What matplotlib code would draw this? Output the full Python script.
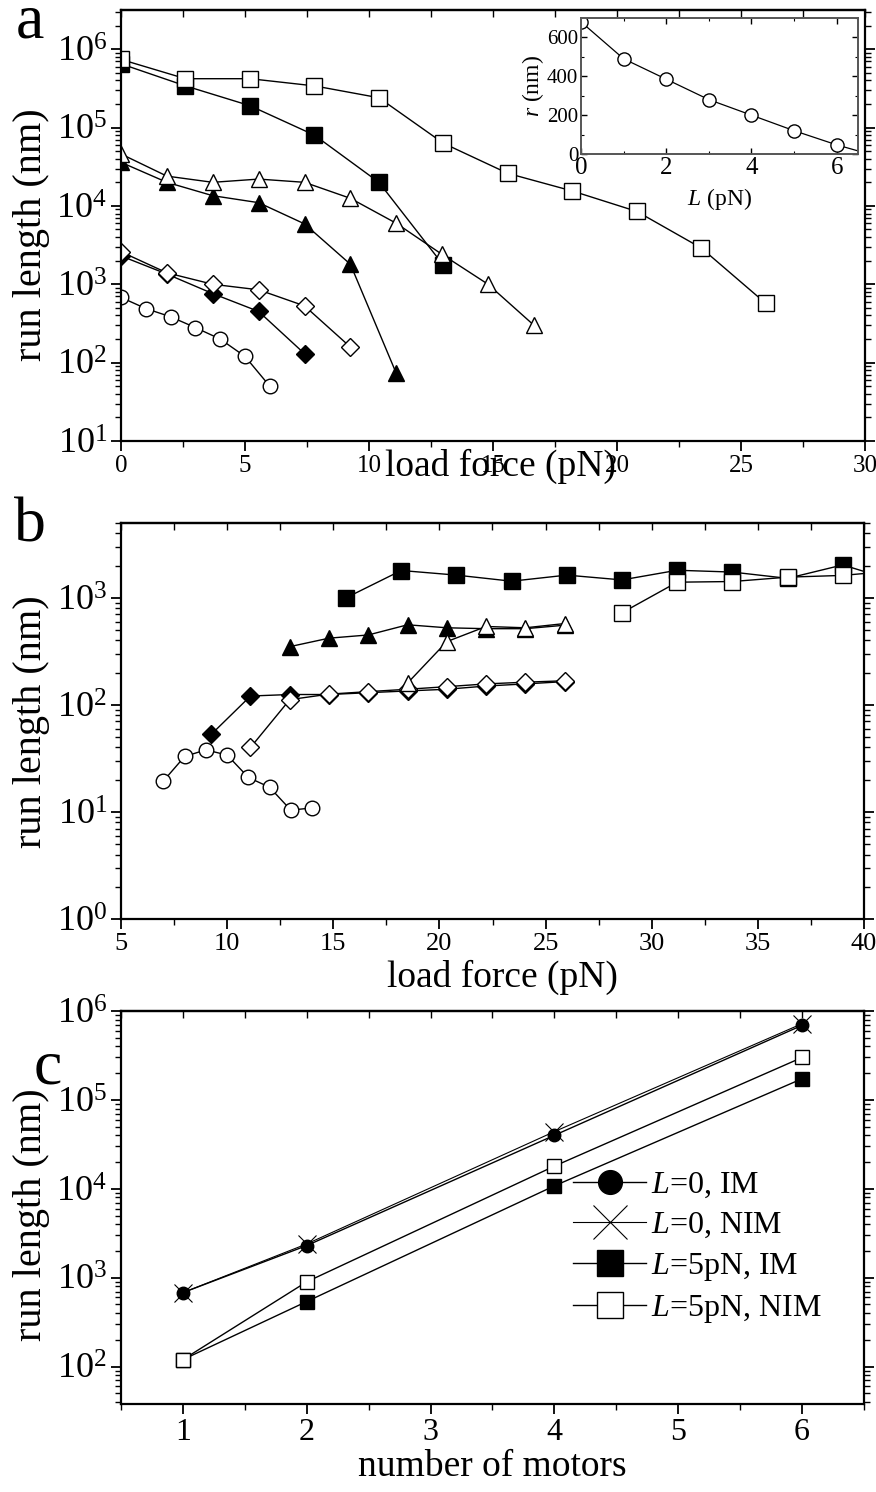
import matplotlib
matplotlib.use('Agg')
import matplotlib.pyplot as plt
import numpy as np
from matplotlib.ticker import LogLocator, NullFormatter, MultipleLocator, LogFormatterMathtext, NullLocator

plt.rcParams['font.family'] = ['Liberation Serif', 'DejaVu Serif']
plt.rcParams['mathtext.fontset'] = 'custom'
plt.rcParams['mathtext.rm'] = 'Liberation Serif'
plt.rcParams['mathtext.it'] = 'Liberation Serif:italic'
plt.rcParams['mathtext.bf'] = 'Liberation Serif:bold'

# ---------------- Panel a data ----------------
a_sq_x = [0, 2.6, 5.2, 7.8, 10.4, 13.0, 15.6, 18.2, 20.8, 23.4, 26.0]
a_sq_open = [7.4e5, 4.2e5, 4.2e5, 3.4e5, 2.4e5, 6.3e4, 2.6e4, 1.55e4, 8.5e3, 2.9e3, 570]
a_sq_fill_x = [0, 2.6, 5.2, 7.8, 10.4, 13.0]
a_sq_fill = [6.5e5, 3.4e5, 1.9e5, 8.0e4, 2.0e4, 1.75e3]
a_tri_x = [0, 1.85, 3.7, 5.55, 7.4, 9.25, 11.1, 12.95, 14.8, 16.65]
a_tri_open = [4.6e4, 2.4e4, 2.0e4, 2.2e4, 2.0e4, 1.25e4, 6.0e3, 2.4e3, 1.0e3, 300]
a_tri_fill_x = [0, 1.85, 3.7, 5.55, 7.4, 9.25, 11.1]
a_tri_fill = [3.6e4, 2.0e4, 1.35e4, 1.1e4, 5.9e3, 1.8e3, 73]
a_dia_x = [0, 1.85, 3.7, 5.55, 7.4, 9.25]
a_dia_open = [2.6e3, 1.4e3, 1.0e3, 850, 530, 158]
a_dia_fill_x = [0, 1.85, 3.7, 5.55, 7.4]
a_dia_fill = [2.3e3, 1.35e3, 760, 450, 130]
a_cir_x = [0, 1, 2, 3, 4, 5, 6]
a_cir = [680, 490, 385, 280, 200, 120, 50]

# inset
in_L = [0, 1, 2, 3, 4, 5, 6, 7]
in_r = [680, 490, 385, 280, 200, 120, 47, -15]

# ---------------- Panel b data ----------------
b_cir_x = [7, 8, 9, 10, 11, 12, 13, 14]
b_cir = [19.5, 33, 38, 34, 21, 17, 10.4, 10.9]
b_dia_fill_x = [9.25, 11.1, 12.95, 14.8, 16.65, 18.5, 20.35, 22.2, 24.05, 25.9]
b_dia_fill = [53, 121, 125, 125, 130, 135, 140, 150, 157, 165]
b_dia_open_x = [11.1, 12.95, 14.8, 16.65, 18.5, 20.35, 22.2, 24.05, 25.9]
b_dia_open = [40, 112, 126, 133, 140, 148, 157, 163, 168]
b_tri_fill_x = [12.95, 14.8, 16.65, 18.5, 20.35, 22.2, 24.05, 25.9]
b_tri_fill = [350, 420, 450, 560, 525, 515, 515, 555]
b_tri_open_x = [18.5, 20.35, 22.2, 24.05, 25.9]
b_tri_open = [160, 390, 540, 525, 575]
b_sq_fill_x = [15.6, 18.2, 20.8, 23.4, 26.0, 28.6, 31.2, 33.8, 36.4, 39.0, 41.6]
b_sq_fill = [1000, 1800, 1630, 1430, 1630, 1470, 1810, 1740, 1520, 2030, 1410]
b_sq_open_x = [28.6, 31.2, 33.8, 36.4, 39.0, 41.6]
b_sq_open = [725, 1400, 1420, 1560, 1620, 1800]

# ---------------- Panel c data ----------------
c_n = [1, 2, 4, 6]
c_L0_IM = [680, 2300, 4.0e4, 6.9e5]
c_L0_NIM = [680, 2400, 4.4e4, 7.2e5]
c_L5_IM = [120, 540, 1.08e4, 1.73e5]
c_L5_NIM = [120, 900, 1.8e4, 3.0e5]
c_labels = [r'$L$=0, IM', r'$L$=0, NIM', r'$L$=5pN, IM', r'$L$=5pN, NIM']

W, H = 876, 1492
fig = plt.figure(figsize=(W / 100, H / 100), dpi=100)


def px_axes(l, t, r, b):
    return fig.add_axes([l / W, 1 - b / H, (r - l) / W, (b - t) / H])


def style(ax, xmaj, xmin, xfs, yfs=26):
    ax.set_yscale('log')
    ax.xaxis.set_major_locator(MultipleLocator(xmaj))
    ax.xaxis.set_minor_locator(MultipleLocator(xmin))
    ax.yaxis.set_major_locator(LogLocator(base=10, numticks=20))
    ax.yaxis.set_minor_locator(LogLocator(base=10, subs=np.arange(2, 10), numticks=20))
    ax.yaxis.set_major_formatter(LogFormatterMathtext())
    ax.yaxis.set_minor_formatter(NullFormatter())
    ax.tick_params(axis='both', which='major', direction='out', length=7, width=1.3, pad=3)
    ax.tick_params(axis='both', which='minor', direction='out', length=4, width=1.0)
    ax.tick_params(axis='y', which='both', right=True, labelsize=yfs)
    ax.tick_params(axis='x', which='both', top=False, labelsize=xfs)
    for s in ax.spines.values():
        s.set_linewidth(1.6)
    sec = ax.secondary_xaxis('top')
    sec.xaxis.set_major_locator(MultipleLocator(xmin))
    sec.xaxis.set_minor_locator(NullLocator())
    sec.tick_params(axis='x', direction='in', length=5, width=1.0, labeltop=False)
    sec.spines['top'].set_linewidth(1.6)


lw = 1.0
ms = 11
kw_f = dict(color='black', lw=lw, mfc='black', mec='black', mew=1.0, ms=ms)
kw_o = dict(color='black', lw=lw, mfc='white', mec='black', mew=1.0, ms=ms)

# ---------------- Panel a ----------------
ax = px_axes(121, 10, 865, 441)
ax.plot(a_sq_fill_x, a_sq_fill, marker='s', **kw_f)
ax.plot(a_sq_x, a_sq_open, marker='s', **kw_o)
ax.plot(a_tri_fill_x, a_tri_fill, marker='^', **kw_f)
ax.plot(a_tri_x, a_tri_open, marker='^', **kw_o)
ax.plot(a_dia_fill_x, a_dia_fill, marker='D', **{**kw_f, 'ms': 9.5})
ax.plot(a_dia_x, a_dia_open, marker='D', **{**kw_o, 'ms': 9.5})
ax.plot(a_cir_x, a_cir, marker='o', **{**kw_o, 'ms': 10.5})
ax.set_xlim(0, 30)
ax.set_ylim(10, 10 ** 6.5)
style(ax, 5, 2.5, 18)

# inset
axi = px_axes(581, 18, 858, 154)
axi.plot(in_L, in_r, marker='o', color='black', lw=0.9, mfc='white', mec='black', mew=1.0, ms=9.5)
axi.set_xlim(0, 6.5)
axi.set_ylim(0, 700)
axi.xaxis.set_major_locator(MultipleLocator(2))
axi.xaxis.set_minor_locator(MultipleLocator(1))
axi.yaxis.set_major_locator(MultipleLocator(200))
axi.yaxis.set_minor_locator(MultipleLocator(100))
axi.tick_params(axis='both', which='major', direction='in', length=4, width=1.0, pad=2)
axi.tick_params(axis='both', which='minor', direction='in', length=2.5, width=0.8)
axi.tick_params(axis='x', which='both', top=True, labelsize=18)
axi.tick_params(axis='y', which='both', right=True, labelsize=15)
for s in axi.spines.values():
    s.set_linewidth(1.4)
    s.set_color('#555555')
axi.set_xlabel(r'$L$ (pN)', fontsize=17, labelpad=5)
axi.set_ylabel(r'$r$ (nm)', fontsize=17, labelpad=1)

# ---------------- Panel b ----------------
ax = px_axes(121, 523, 864, 919)
ax.plot(b_cir_x, b_cir, marker='o', **{**kw_o, 'ms': 10.5})
ax.plot(b_dia_fill_x, b_dia_fill, marker='D', **{**kw_f, 'ms': 9.5})
ax.plot(b_dia_open_x, b_dia_open, marker='D', **{**kw_o, 'ms': 9.5})
ax.plot(b_tri_fill_x, b_tri_fill, marker='^', **kw_f)
ax.plot(b_tri_open_x, b_tri_open, marker='^', **kw_o)
ax.plot(b_sq_fill_x, b_sq_fill, marker='s', **kw_f)
ax.plot(b_sq_open_x, b_sq_open, marker='s', **kw_o)
ax.set_xlim(5, 40)
ax.set_ylim(1, 5000)
style(ax, 5, 2.5, 19)

# ---------------- Panel c ----------------
ax = px_axes(121, 1011, 864, 1404)
ax.plot(c_n, c_L0_IM, marker='o', color='black', lw=1.0, mfc='black', mec='black', ms=9, label=c_labels[0])
ax.plot(c_n, c_L0_NIM, marker='x', color='black', lw=0.8, mec='black', mew=0.8, ms=13, label=c_labels[1])
ax.plot(c_n, c_L5_IM, marker='s', color='black', lw=1.0, mfc='black', mec='black', ms=9.5, label=c_labels[2])
ax.plot(c_n, c_L5_NIM, marker='s', color='black', lw=1.0, mfc='white', mec='black', mew=1.0, ms=9.5, label=c_labels[3])
ax.set_xlim(0.5, 6.5)
ax.set_ylim(38, 1e6)
style(ax, 1, 0.5, 23)
leg = ax.legend(loc='center left', bbox_to_anchor=((573 - 121) / 743, (1404 - 1248) / 393),
                frameon=False, fontsize=23, markerscale=1.9, handlelength=2.3,
                handletextpad=0.15, labelspacing=0.33, borderpad=0, borderaxespad=0)

# ---------------- labels ----------------
def ftext(x, y, s, va='center', **k):
    fig.text(x / W, 1 - y / H, s, ha='center', va=va, **k)

ftext(30, 38, 'a', va='baseline', fontsize=46)
ftext(30, 541, 'b', va='baseline', fontsize=46)
ftext(48, 1083, 'c', va='baseline', fontsize=46)
ftext(32, 235, 'run length (nm)', fontsize=29, rotation=90)
ftext(32, 722, 'run length (nm)', fontsize=29, rotation=90)
ftext(32, 1215, 'run length (nm)', fontsize=29, rotation=90)
ftext(500, 466, 'load force (pN)', fontsize=27)
ftext(502, 977, 'load force (pN)', fontsize=27)
ftext(492, 1467, 'number of motors', fontsize=27)

fig.savefig('out.png', dpi=100)
